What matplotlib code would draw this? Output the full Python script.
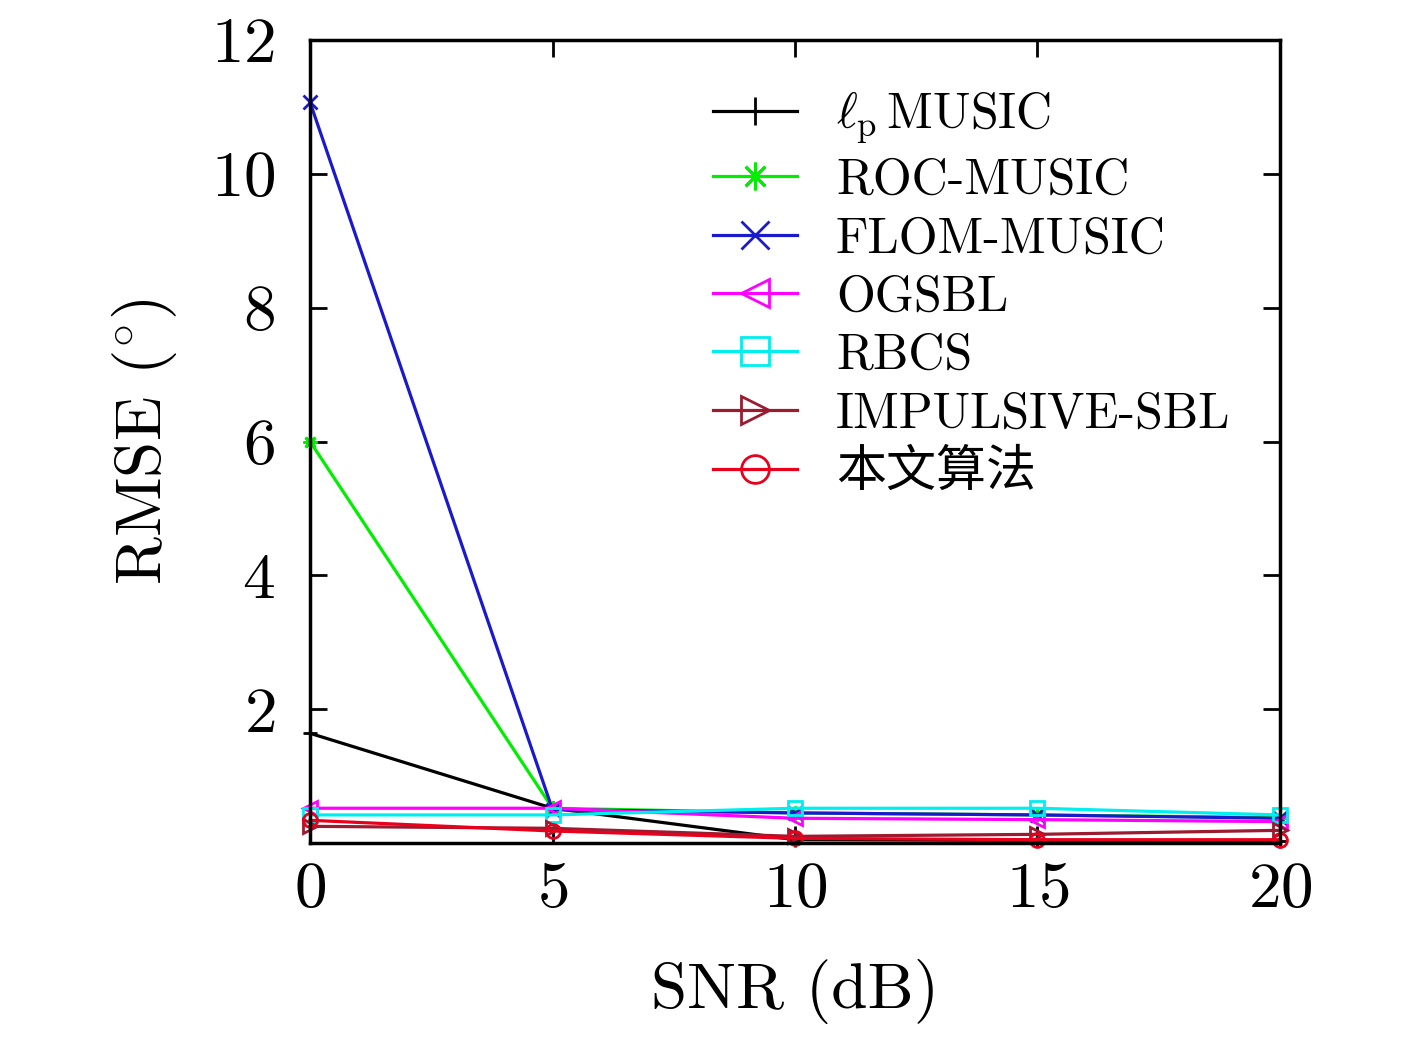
import matplotlib
matplotlib.use('Agg')
import matplotlib.pyplot as plt

# data
snr = [0, 5, 10, 15, 20]
lp_music = [1.64, 0.52, 0.05, 0.04, 0.03]
roc_music = [6.0, 0.52, 0.45, 0.42, 0.38]
flom_music = [11.07, 0.50, 0.45, 0.42, 0.37]
ogsbl = [0.52, 0.52, 0.37, 0.35, 0.32]
rbcs = [0.42, 0.42, 0.52, 0.52, 0.42]
impulsive_sbl = [0.25, 0.22, 0.10, 0.13, 0.19]
proposed = [0.34, 0.18, 0.07, 0.05, 0.05]

labels = [r'$\ell_{\rm p}\,$MUSIC', 'ROC-MUSIC', 'FLOM-MUSIC', 'OGSBL',
          'RBCS', 'IMPULSIVE-SBL', '本文算法']

plt.rcParams['font.family'] = ['cmr10', 'Noto Sans CJK SC']
plt.rcParams['mathtext.fontset'] = 'cm'
plt.rcParams['axes.formatter.use_mathtext'] = True
plt.rcParams['axes.unicode_minus'] = False


def main():
	fig = plt.figure(figsize=(14.17, 10.39), dpi=100)
	ax = fig.add_axes([0.2188, 0.1886, 0.6845, 0.7729])

	series = [lp_music, roc_music, flom_music, ogsbl, rbcs, impulsive_sbl, proposed]
	colors = ['black', '#00ee00', '#1a1acc', '#ff00ff', '#00eeee', '#9b1b30', '#e8001c']
	markers = ['+', (8, 2, 0), 'x', '<', 's', '>', 'o']
	for ys, c, m, lab in zip(series, colors, markers, labels):
		ax.plot(snr, ys, color=c, marker=m, markersize=10, markerfacecolor='none',
				markeredgewidth=2, linewidth=2.3, label=lab, clip_on=False)

	ax.set_xlim(0, 20)
	ax.set_ylim(0, 12)
	ax.set_xticks([0, 5, 10, 15, 20])
	ax.set_yticks([2, 4, 6, 8, 10, 12])
	ax.tick_params(direction='in', top=True, right=True, length=12, width=2,
				   labelsize=47)
	ax.tick_params(axis='x', pad=14)
	ax.tick_params(axis='y', pad=25)
	for sp in ax.spines.values():
		sp.set_linewidth(2.5)

	ax.set_xlabel('SNR (dB)', fontsize=47, labelpad=28)
	ax.set_ylabel(r'RMSE $(^{\circ})$', fontsize=47, labelpad=23)

	ax.legend(loc='upper left', frameon=False, fontsize=36, handlelength=1.68,
			  handletextpad=0.78, labelspacing=0.25, markerscale=2.0,
			  bbox_to_anchor=(0.369, 0.995))

	fig.savefig('out.png', dpi=100)


if __name__ == '__main__':
	main()
